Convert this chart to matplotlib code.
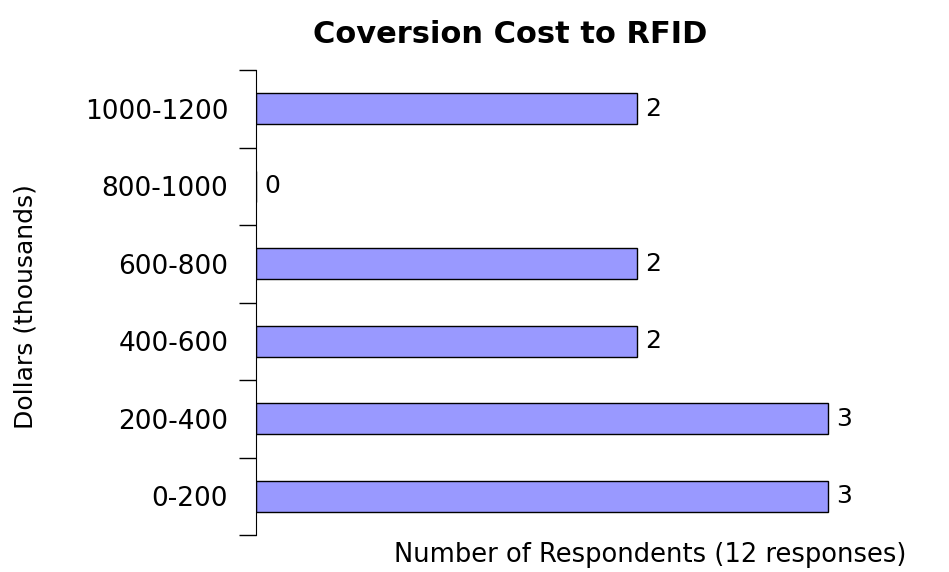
import matplotlib.pyplot as plt
import numpy as np

categories = ['0-200', '200-400', '400-600', '600-800', '800-1000', '1000-1200']
respondents = [3, 3, 2, 2, 0, 2]

fig = plt.figure(figsize=(9.49, 5.72), dpi=100)
ax = fig.add_axes([256 / 949, 1 - 535 / 572, 1 - 256 / 949 - 0.003, (535 - 70) / 572])

y = np.arange(len(categories))
ax.barh(y, respondents, height=0.4, color='#9999ff', edgecolor='black', linewidth=1)
for yi, v in zip(y, respondents):
    ax.text(v + 0.042, yi, str(v), va='center', ha='left', fontsize=18)

ax.set_ylim(-0.5, len(categories) - 0.5)
ax.set_xlim(0, 3.62)
ax.set_yticks(y)
ax.set_yticklabels(categories, fontsize=19)
ax.set_yticks(np.arange(-0.5, len(categories)), minor=True)
ax.tick_params(axis='y', which='major', length=0, pad=20)
ax.tick_params(axis='y', which='minor', length=12, width=1, direction='out')
ax.set_xticks([])
for s in ['top', 'right', 'bottom']:
    ax.spines[s].set_visible(False)

ax.set_ylabel('Dollars (thousands)', fontsize=18)
ax.yaxis.set_label_coords(-0.317, 0.492)
ax.set_xlabel('Number of Respondents (12 responses)', fontsize=18.5)
ax.xaxis.set_label_coords(0.571, -0.015)
fig.suptitle('Coversion Cost to RFID', fontsize=22, fontweight='bold', x=0.538, y=0.965)

fig.savefig('out.png', dpi=100)
